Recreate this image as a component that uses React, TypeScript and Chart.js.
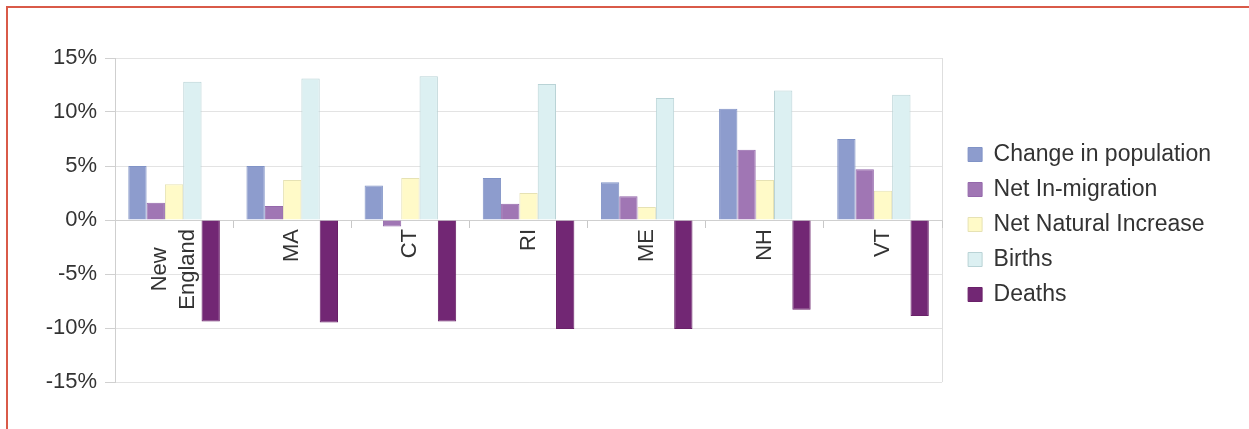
import React, { useEffect, useRef } from "react";
import { Chart, registerables } from "chart.js";

Chart.register(...registerables);

const categories = ["New England", "MA", "CT", "RI", "ME", "NH", "VT"];
const changeInPopulation = [5.0, 5.0, 3.2, 3.9, 3.5, 10.3, 7.5];
const netInMigration = [1.6, 1.3, -0.6, 1.5, 2.2, 6.5, 4.7];
const netNaturalIncrease = [3.3, 3.7, 3.9, 2.5, 1.2, 3.7, 2.7];
const births = [12.8, 13.1, 13.3, 12.6, 11.3, 12.0, 11.6];
const deaths = [-9.4, -9.5, -9.4, -10.1, -10.1, -8.3, -8.9];
const yTicks = [-15, -10, -5, 0, 5, 10, 15];

const LINE = 28;

export default function App() {
  const ref = useRef<HTMLCanvasElement | null>(null);

  useEffect(() => {
    if (!ref.current) return;
    Chart.defaults.font.family = "'Liberation Sans', Arial, sans-serif";
    const font = { size: 22 };
    const chart = new Chart(ref.current, {
      type: "bar",
      data: {
        labels: categories,
        datasets: [
          { label: "Change in population", data: changeInPopulation, backgroundColor: "#8d9ccd", borderColor: "#8093c6", borderWidth: 1 },
          { label: "Net In-migration", data: netInMigration, backgroundColor: "#a076b4", borderColor: "#9468ab", borderWidth: 1 },
          { label: "Net Natural Increase", data: netNaturalIncrease, backgroundColor: "#fffac8", borderColor: "#e6e2b4", borderWidth: 1 },
          { label: "Births", data: births, backgroundColor: "#dcf0f2", borderColor: "#b9d3d6", borderWidth: 1 },
          { label: "Deaths", data: deaths, backgroundColor: "#722774", borderColor: "#6a2169", borderWidth: 1 },
        ],
      },
      options: {
        responsive: false,
        animation: false,
        layout: { padding: { top: 58, bottom: 47, left: 46, right: 28 } },
        datasets: { bar: { categoryPercentage: 0.775, barPercentage: 1.0 } },
        plugins: {
          tooltip: { enabled: false },
          legend: {
            position: "right",
            title: { display: true, text: "", font: { size: 5, lineHeight: 1 }, padding: 2 },
            labels: { boxWidth: 14, boxHeight: 14, padding: 12, color: "#333", font: { size: 23 } },
          },
        },
        scales: {
          x: {
            position: { y: 0 } as any,
            grid: {
              drawOnChartArea: true,
              drawTicks: true,
              tickLength: 7,
              tickColor: "#c8c8c8",
              color: (ctx: any) => (ctx.type === "scale" || ctx.index === undefined ? "#dedede" : "rgba(0,0,0,0)"),
            },
            border: { display: true, color: "#cfcfcf" },
            ticks: {
              minRotation: 90,
              maxRotation: 90,
              autoSkip: false,
              padding: 2,
              labelOffset: -LINE / 2,
              color: "#333",
              callback: (_v: any, i: number) => {
                const words = categories[i].split(" ");
                if (words.length > 1) return [words[0] + "   ", words.slice(1).join(" ")];
                return ["", categories[i]];
              },
              font: (ctx: any) =>
                ctx.index === 0 ? { size: 22, lineHeight: LINE + "px" } : { size: 22, lineHeight: LINE / 2 + "px" },
            },
          },
          y: {
            min: -15,
            max: 15,
            afterFit: (axis: any) => { axis.width = 69; },
            afterBuildTicks: (axis: any) => { axis.ticks = yTicks.map((v) => ({ value: v })); },
            grid: { color: "#e3e3e3", tickLength: 10, tickColor: "#d0d0d0" },
            border: { display: true, color: "#cfcfcf" },
            ticks: { stepSize: 5, padding: 8, color: "#333", font, callback: (v: any) => v + "%" },
          },
          gap: {
            type: "linear",
            display: false,
            position: "right",
            afterFit: (axis: any) => { axis.width = 14; },
          },
        },
      },
    });
    return () => chart.destroy();
  }, []);

  return (
    <div>
      <div
        style={{
          position: "absolute",
          left: 6,
          top: 6,
          width: 1243,
          height: 423,
          boxSizing: "border-box",
          borderTop: "2px solid #d95a48",
          borderLeft: "2px solid #d95a48",
        }}
      />
      <canvas
        ref={ref}
        width={1249}
        height={429}
        style={{ position: "absolute", left: 0, top: 0, width: 1249, height: 429 }}
      />
    </div>
  );
}
